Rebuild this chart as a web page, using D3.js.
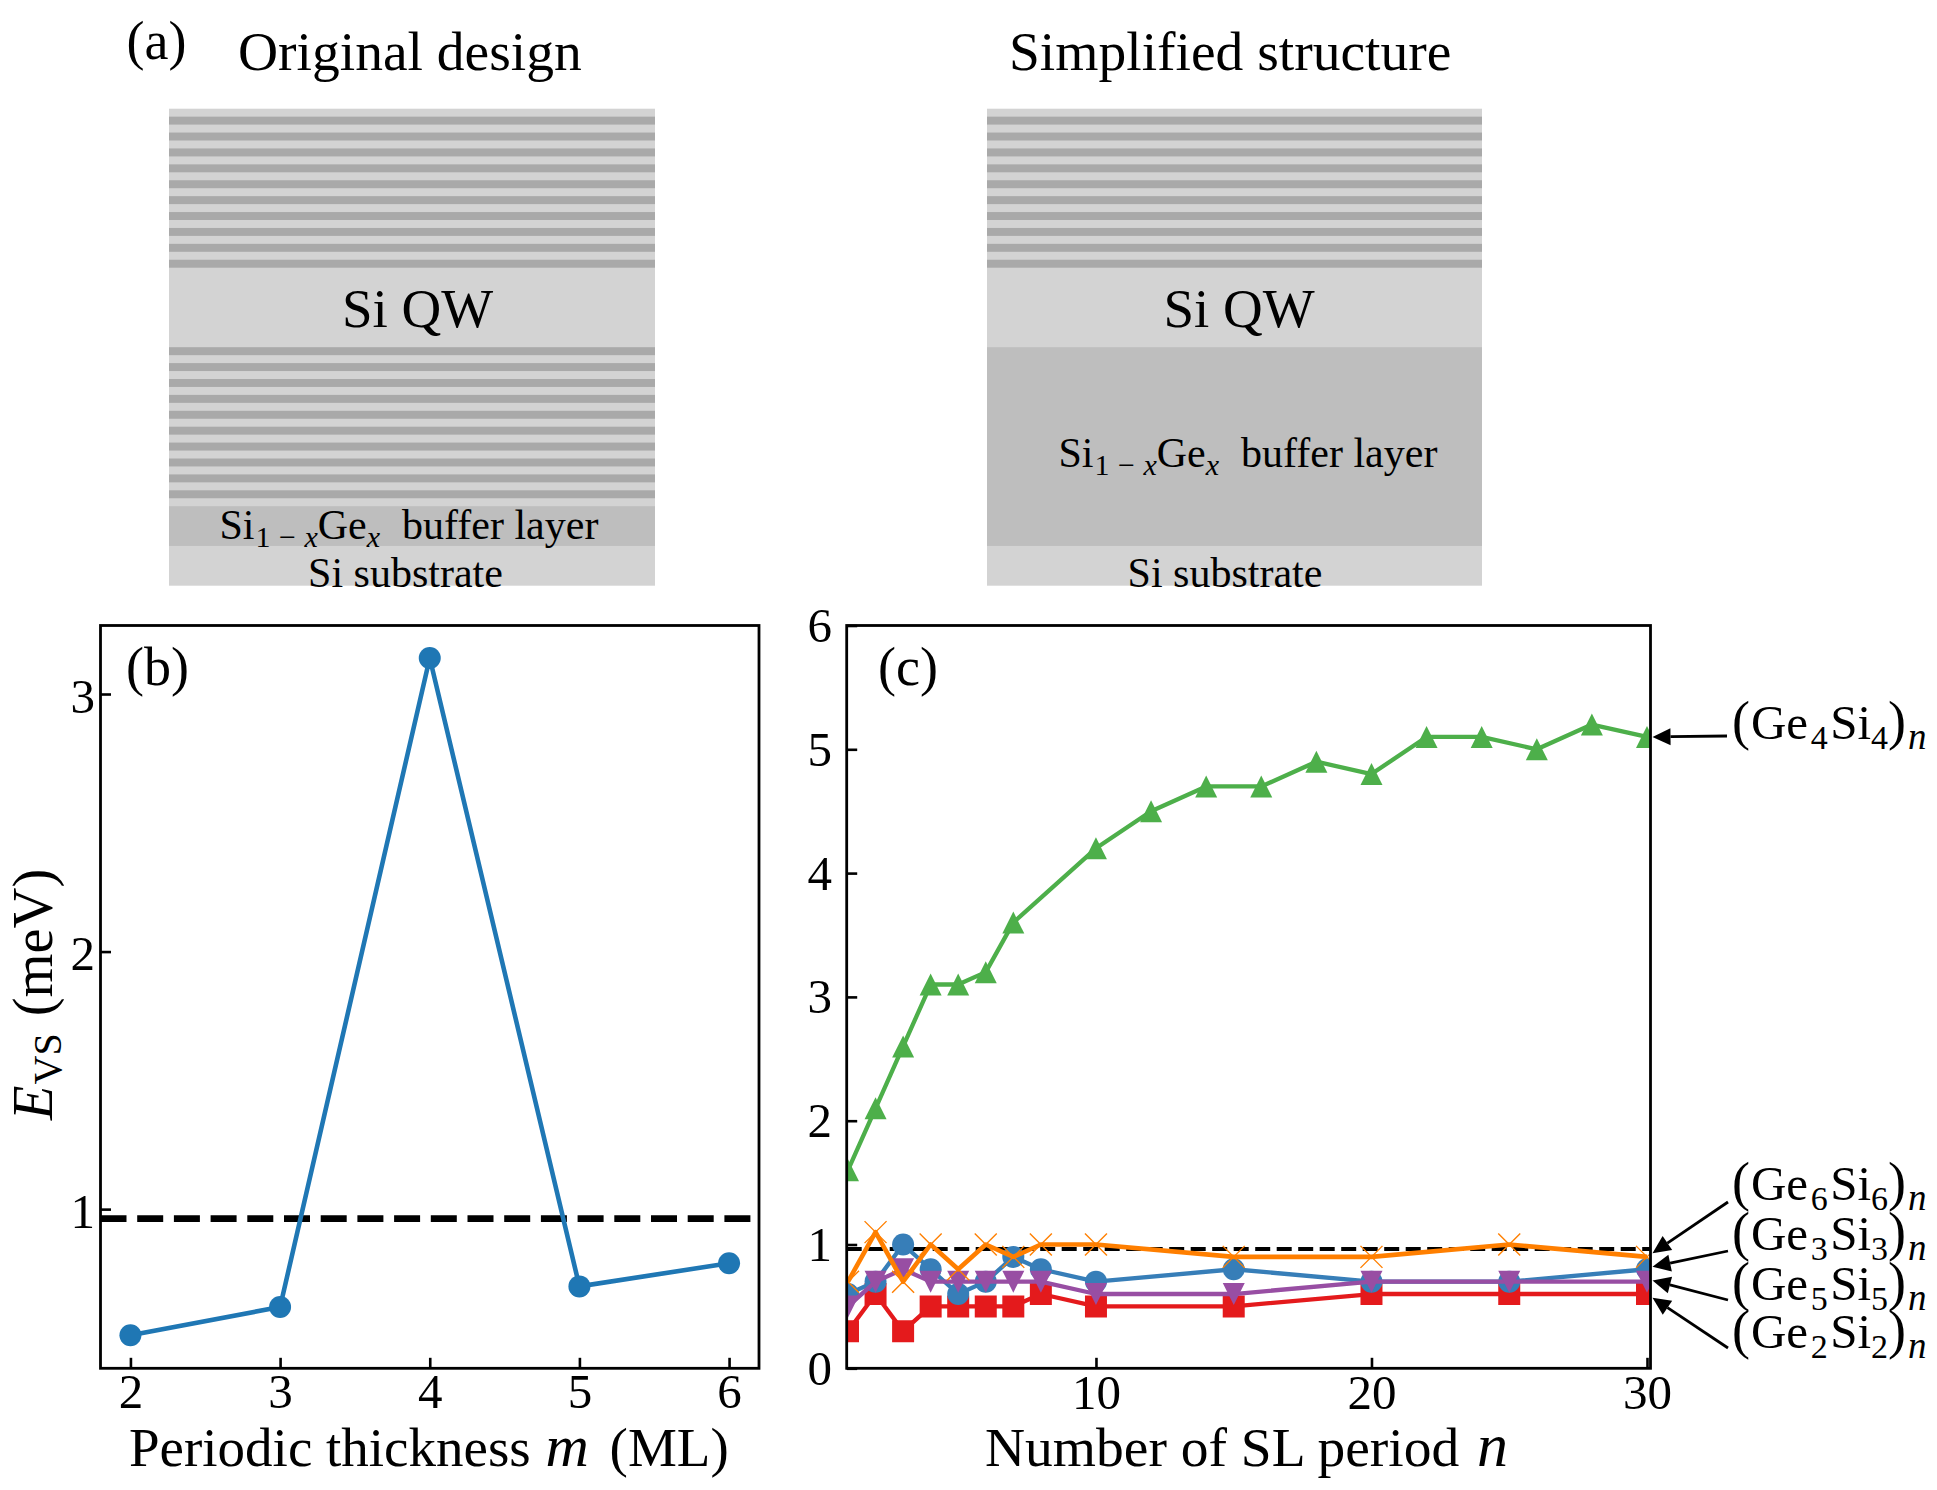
<!DOCTYPE html>
<html><head><meta charset="utf-8">
<script src="https://cdn.jsdelivr.net/npm/d3@7"></script>
<style>html,body{margin:0;padding:0;background:#fff}svg{display:block}text{font-family:"Liberation Serif",serif;fill:#000}</style>
</head><body><svg id="c" width="1937" height="1490"></svg>
<script>
// ---- data ----
const thicknessM = [2,3,4,5,6];
const evsM = [0.51,0.62,3.14,0.70,0.79];
const valleyRef = 0.963;
const periodsShort = [1,2,3,4,5,6,7,8,10,15,20,25,30];
const periodsLong = [1,2,3,4,5,6,7,10,12,14,16,18,20,22,24,26,28,30];
const ge4si4 = [1.6,2.1,2.6,3.1,3.1,3.2,3.6,4.2,4.5,4.7,4.7,4.9,4.8,5.1,5.1,5.0,5.2,5.1];
const ge2si2 = [0.3,0.6,0.3,0.5,0.5,0.5,0.5,0.6,0.5,0.5,0.6,0.6,0.6];
const ge6si6 = [0.6,0.7,1.0,0.8,0.6,0.7,0.9,0.8,0.7,0.8,0.7,0.7,0.8];
const ge5si5 = [0.5,0.7,0.8,0.7,0.7,0.7,0.7,0.7,0.6,0.6,0.7,0.7,0.7];
const ge3si3 = [0.7,1.1,0.7,1.0,0.8,1.0,0.9,1.0,1.0,0.9,0.9,1.0,0.9];
const ticksB = [2,3,4,5,6], ticksBY = [1,2,3];
const ticksCX = [10,20,30], ticksCY = [0,1,2,3,4,5,6];
// layer stack in units
const stackTop = d3.range(10).map(i=>1+2*i);
const stackBottom = d3.range(10).map(i=>30+2*i);
const layerColors = {light:"#d3d3d3",dark:"#a9a9a9",buffer:"#bebebe"};

const svg = d3.select("#c");
svg.append("rect").attr("width",1937).attr("height",1490).attr("fill","#fff");

function rich(parent,x,y,size,runs,opts={}){
  const t=parent.append("text").attr("x",x).attr("y",y).attr("font-size",size);
  if(opts.rotate) t.attr("transform",`rotate(-90 ${x} ${y})`);
  let cur=0;
  runs.forEach(r=>{
    const s=t.append("tspan").text(r.t);
    const target=r.sub?(r.shift||Math.round(size*0.16)):0;
    s.attr("dy",target-cur); cur=target;
    if(r.sub) s.attr("font-size",r.size||size*0.7);
    if(r.size&&!r.sub) s.attr("font-size",r.size);
    if(r.it) s.attr("font-style","italic");
    if(r.dx) s.attr("dx",r.dx);
    s.style("white-space","pre");
  });
  t.style("white-space","pre");
  return t;
}

// ---- panel (a) ----
const yL = d3.scaleLinear().domain([0,60]).range([108.7,585.7]);
function stack(x0,x1,lower){
  const g=svg.append("g"), w=x1-x0;
  const rect=(a,b,c)=>g.append("rect").attr("x",x0).attr("width",w).attr("y",yL(a)).attr("height",yL(b)-yL(a)).attr("fill",c);
  rect(0,60,layerColors.light);
  stackTop.forEach(s=>rect(s,s+1,layerColors.dark));
  if(lower){ stackBottom.forEach(s=>rect(s,s+1,layerColors.dark)); rect(50,55,layerColors.buffer);}
  else rect(30,55,layerColors.buffer);
}
stack(169,655,true); stack(987,1482,false);
const bufRuns=[{t:"Si"},{t:"1",sub:1,size:30,shift:8,dx:1},{t:" − ",sub:1,size:30,shift:8,dx:1},{t:"x",sub:1,size:30,shift:8,it:1,dx:1},{t:"Ge"},{t:"x",sub:1,size:30,shift:8,it:1},{t:"  buffer layer",dx:1}];
svg.append("text").attr("x",126.5).attr("y",59).attr("font-size",54).text("(a)");
svg.append("text").attr("x",238).attr("y",69.5).attr("font-size",55.5).text("Original design");
svg.append("text").attr("x",1009).attr("y",69.5).attr("font-size",55.5).text("Simplified structure");
svg.append("text").attr("x",417.5).attr("y",327).attr("font-size",55).attr("text-anchor","middle").text("Si QW");
svg.append("text").attr("x",1239).attr("y",327).attr("font-size",55).attr("text-anchor","middle").text("Si QW");
rich(svg,219.5,538.5,42,bufRuns);
rich(svg,1058.5,466.5,42,bufRuns);
svg.append("text").attr("x",405.5).attr("y",586.5).attr("font-size",42).attr("text-anchor","middle").text("Si substrate");
svg.append("text").attr("x",1225).attr("y",586.5).attr("font-size",42).attr("text-anchor","middle").text("Si substrate");

// ---- helpers ----
const markers={
  circle:r=>d3.symbol(d3.symbolCircle,Math.PI*r*r)(),
  square:r=>`M${-r},${-r}H${r}V${r}H${-r}Z`,
  up:r=>`M0,${-r}L${r},${r}L${-r},${r}Z`,
  down:r=>`M0,${r}L${r},${-r}L${-r},${-r}Z`,
  x:r=>`M${-r},${-r}L${r},${r}M${r},${-r}L${-r},${r}`
};
function drawSeries(g,xs,ys,x,y,color,kind,r,lw){
  const pts=xs.map((v,i)=>[v,ys[i]]);
  g.append("path").attr("d",d3.line().x(d=>x(d[0])).y(d=>y(d[1]))(pts)).attr("fill","none").attr("stroke",color).attr("stroke-width",lw).attr("stroke-linejoin","round");
  g.selectAll(null).data(pts).join("path").attr("d",markers[kind](r))
    .attr("transform",d=>`translate(${x(d[0])},${y(d[1])})`)
    .attr("fill",kind==="x"?"none":color).attr("stroke",kind==="x"?color:"none").attr("stroke-width",1.4);
}
function frame(id,l,r,t,b,x,y,xt,yt,ylabEnd,ylabShift,xlabY){
  const root=svg.append("g");
  svg.append("defs").append("clipPath").attr("id",id).append("rect").attr("x",l).attr("y",t).attr("width",r-l).attr("height",b-t);
  const plot=root.append("g").attr("clip-path",`url(#${id})`);
  const top=root.append("g");
  const ax=top.append("g").attr("transform",`translate(0,${b})`).call(d3.axisBottom(x).tickValues(xt).tickSize(-10.5).tickPadding(0).tickFormat(d3.format("d")));
  const ay=top.append("g").attr("transform",`translate(${l},0)`).call(d3.axisLeft(y).tickValues(yt).tickSize(-10.5).tickPadding(0).tickFormat(d3.format("d")));
  [ax,ay].forEach(a=>{a.select(".domain").remove();a.selectAll("line").attr("stroke","#000").attr("stroke-width",2.6);
    a.selectAll("text").attr("font-size",49).attr("font-family","Liberation Serif").attr("fill","#000");});
  ax.selectAll("text").attr("y",xlabY).attr("dy",null);
  ay.selectAll("text").attr("x",ylabEnd-l).attr("dy",16+ylabShift);
  top.append("rect").attr("x",l).attr("y",t).attr("width",r-l).attr("height",b-t).attr("fill","none").attr("stroke","#000").attr("stroke-width",2.8);
  return {plot,top};
}

// ---- panel (b) ----
const bx=d3.scaleLinear().domain([1.8,6.2]).range([100.5,759]);
const by=d3.scaleLinear().domain([0.382,3.266]).range([1368.3,625.5]);
const B=frame("cb",100.5,759,625.5,1368.3,bx,by,ticksB,ticksBY,95,2,40);
B.plot.append("line").attr("x1",bx(1.8)).attr("x2",bx(6.2)).attr("y1",by(valleyRef)).attr("y2",by(valleyRef)).attr("stroke","#000").attr("stroke-width",6.8).attr("stroke-dasharray","26,10.7");
drawSeries(B.plot,thicknessM,evsM,bx,by,"#1f77b4","circle",11,4.6);
svg.append("text").attr("x",126).attr("y",685).attr("font-size",54).text("(b)");
rich(svg,129,1466,55,[{t:"Periodic thickness "},{t:"m",it:1,size:60,dx:1},{t:" (ML)",dx:7}]);
rich(svg,52,1120,56.5,[{t:"E",it:1},{t:"VS",sub:1,size:40,shift:0,dx:1},{t:" (meV)",dx:3}],{rotate:true});

// ---- panel (c) ----
const cx=d3.scaleLinear().domain([1,30]).range([848,1647]);
const cy=d3.scaleLinear().domain([0,6]).range([1368.3,625.5]);
const C=frame("cc",846.7,1650.5,625.5,1368.3,cx,cy,ticksCX,ticksCY,832,0,41);
C.plot.append("line").attr("x1",846.7).attr("x2",1650.5).attr("y1",cy(valleyRef)).attr("y2",cy(valleyRef)).attr("stroke","#000").attr("stroke-width",4).attr("stroke-dasharray","15,6.5");
drawSeries(C.plot,periodsLong,ge4si4,cx,cy,"#4daf4a","up",11,4.3);
drawSeries(C.plot,periodsShort,ge2si2,cx,cy,"#e41a1c","square",11,4.3);
drawSeries(C.plot,periodsShort,ge6si6,cx,cy,"#377eb8","circle",11,4.3);
drawSeries(C.plot,periodsShort,ge5si5,cx,cy,"#984ea3","down",11,4.3);
drawSeries(C.plot,periodsShort,ge3si3,cx,cy,"#ff7f00","x",11,4.6);
svg.append("text").attr("x",878).attr("y",685).attr("font-size",54).text("(c)");
rich(svg,985,1466,55.5,[{t:"Number of SL period "},{t:"n",it:1,size:62,dx:4}]);

// ---- annotations ----
const labelRows=[
 {a:"4",y0:739,from:[1727,736],to:5.1},
 {a:"6",y0:1200,from:[1728,1202],to:0.93},
 {a:"3",y0:1250,from:[1728,1251],to:0.82},
 {a:"5",y0:1300,from:[1728,1300],to:0.71},
 {a:"2",y0:1348,from:[1728,1348],to:0.57}
];
function arrow(x0,y0,x1,y1){
  const L=Math.hypot(x1-x0,y1-y0),ux=(x1-x0)/L,uy=(y1-y0)/L,hl=18,hw=8.5;
  const bx0=x1-ux*hl,by0=y1-uy*hl;
  svg.append("line").attr("x1",x0).attr("y1",y0).attr("x2",bx0).attr("y2",by0).attr("stroke","#000").attr("stroke-width",2.8);
  svg.append("path").attr("d",`M${x1},${y1}L${bx0-uy*hw},${by0+ux*hw}L${bx0+uy*hw},${by0-ux*hw}Z`).attr("fill","#000");
}
labelRows.forEach(r=>{
  arrow(r.from[0],r.from[1],1652.5,cy(r.to));
  rich(svg,1732,r.y0,49,[{t:"(",size:54},{t:"Ge",dx:1},{t:r.a,sub:1,size:34,shift:10,dx:2.5},{t:"Si",dx:2.5},{t:r.a,sub:1,size:34,shift:10},{t:")",size:54},{t:"n",sub:1,size:37,shift:10,it:1,dx:2}]);
});
</script></body></html>
